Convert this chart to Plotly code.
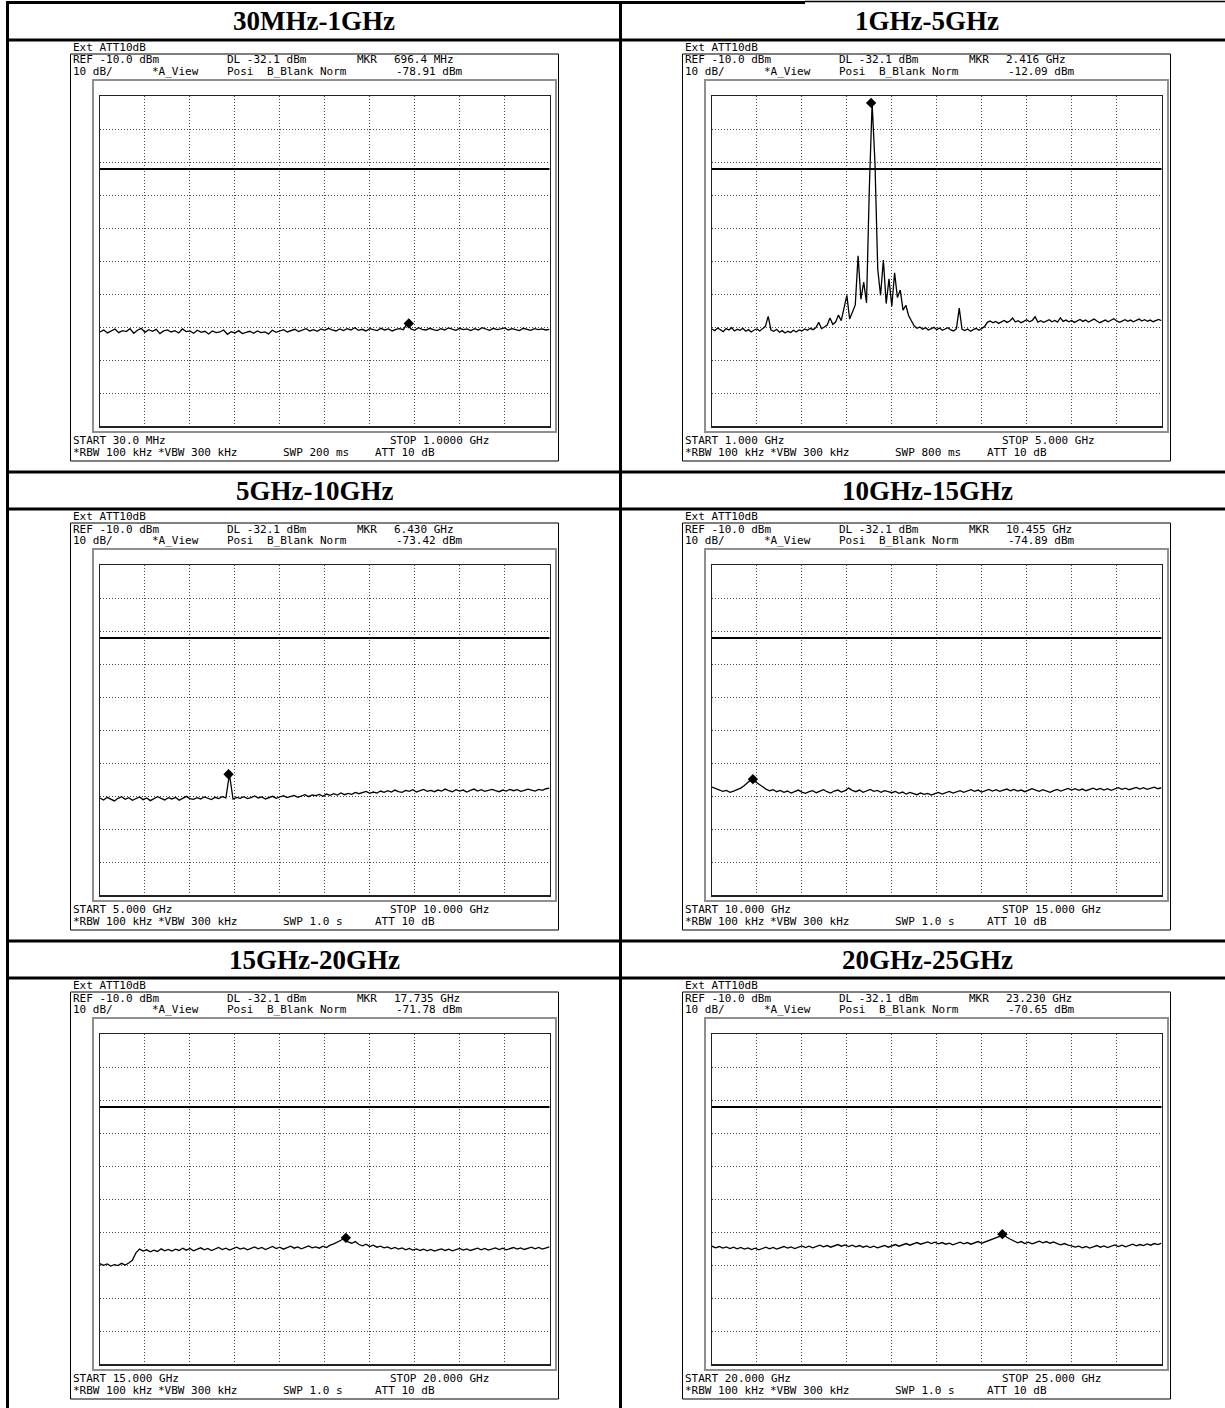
import numpy as np
import plotly.graph_objects as go

W, H = 1225, 1408

# ---------------- data ----------------
TITLES = ["30MHz-1GHz", "1GHz-5GHz", "5GHz-10GHz", "10GHz-15GHz", "15GHz-20GHz", "20GHz-25GHz"]
START_GHZ = [0.03, 1.0, 5.0, 10.0, 15.0, 20.0]
STOP_GHZ = [1.0, 5.0, 10.0, 15.0, 20.0, 25.0]
MKR_GHZ = [0.6964, 2.416, 6.430, 10.455, 17.735, 23.230]
MKR_DBM = [-78.91, -12.09, -73.42, -74.89, -71.78, -70.65]
REF_DBM = -10.0
DB_PER_DIV = 10
DL_DBM = -32.1

START_TXT = ["START 30.0 MHz", "START 1.000 GHz", "START 5.000 GHz",
             "START 10.000 GHz", "START 15.000 GHz", "START 20.000 GHz"]
STOP_TXT = ["STOP 1.0000 GHz", "STOP 5.000 GHz", "STOP 10.000 GHz",
            "STOP 15.000 GHz", "STOP 20.000 GHz", "STOP 25.000 GHz"]
MKR_F_TXT = ["696.4 MHz", "2.416 GHz", "6.430 GHz", "10.455 GHz", "17.735 GHz", "23.230 GHz"]
MKR_L_TXT = ["-78.91 dBm", "-12.09 dBm", "-73.42 dBm", "-74.89 dBm", "-71.78 dBm", "-70.65 dBm"]
SWP_TXT = ["SWP 200 ms", "SWP 800 ms", "SWP 1.0 s", "SWP 1.0 s", "SWP 1.0 s", "SWP 1.0 s"]

TRACE_1 = [
    -81.5, -80.9, -81.8, -81.2, -80.6, -81.7, -81.1, -81.4, -80.5, -81.9,
    -81.0, -80.4, -81.6, -80.8, -81.3, -80.7, -82.0, -81.2, -80.9, -81.5,
    -81.1, -81.8, -80.6, -81.4, -81.2, -81.9, -81.0, -81.6, -81.3, -82.1,
    -81.2, -81.7, -81.5, -80.9, -82.2, -81.4, -81.8, -81.1, -82.0, -81.6,
    -81.3, -81.9, -81.2, -81.7, -81.5, -82.1, -81.0, -81.6, -81.3, -80.8,
    -81.5, -81.1, -80.7, -81.4, -80.9, -80.5, -81.2, -80.8, -81.3, -80.6,
    -81.0, -80.4, -80.9, -81.2, -80.6, -81.1, -80.5, -80.9, -80.2, -81.0,
    -80.7, -81.2, -80.5, -80.8, -81.1, -80.4, -80.9, -80.6, -81.2, -80.7,
    -80.5, -80.8, -78.9, -80.6, -81.0, -80.2, -80.7, -80.9, -80.4, -80.8,
    -81.1, -80.5, -80.9, -80.3, -80.7, -81.0, -80.4, -80.8, -80.6, -81.1,
    -80.5, -80.9, -80.2, -80.7, -81.0, -80.4, -80.8, -80.6, -80.3, -80.9,
    -80.5, -80.8, -81.1, -80.4, -80.7, -81.0, -80.5, -80.8, -80.6, -80.9,
    -80.7]

TRACE_2 = [
    -80.6, -81.1, -80.3, -80.8, -81.4, -80.5, -80.9, -80.2, -81.2, -80.7,
    -81.0, -80.4, -81.3, -80.8, -81.5, -80.9, -80.6, -81.2, -80.4, -79.8,
    -76.8,
    -80.9, -81.3, -80.7, -81.6, -81.1, -81.8, -81.3, -81.7, -81.0,
    -81.5, -80.9, -81.2, -80.6, -81.0, -80.4, -80.8, -80.2, -78.6, -80.5,
    -80.0, -79.4, -77.3, -79.2, -78.5, -76.4, -78.1, -74.6, -70.4, -77.6,
    -75.7, -73.3, -58.4, -71.6, -66.4, -72.7, -38.0, -12.1, -30.0, -62.5,
    -70.4, -59.7, -72.9, -65.4, -73.7, -63.6, -71.1, -68.8, -74.9, -73.4,
    -76.6, -78.3, -79.7, -80.4, -80.0, -80.7, -80.2, -80.9, -80.5, -80.1,
    -80.8, -80.3, -81.0, -80.6, -80.2, -80.9, -81.2, -80.5, -74.3, -80.7,
    -81.1, -80.6, -81.3, -80.8, -80.4, -81.0, -80.5, -79.9, -78.6, -78.2,
    -78.7, -78.3, -78.9, -78.4, -78.0, -78.6, -78.2, -77.3, -78.5, -78.1,
    -78.7, -78.3, -77.8, -78.4, -78.0, -76.9, -78.5, -78.1, -78.6, -78.2,
    -77.8, -78.4, -78.0, -78.5, -77.2, -78.3, -77.9, -78.4, -78.0, -78.6,
    -78.2, -77.7, -78.3, -77.9, -78.5, -78.1, -77.6, -78.2, -78.7, -78.3,
    -77.9, -78.4, -78.0, -77.5, -78.1, -78.6, -78.2, -77.8, -78.3, -77.9,
    -78.4, -78.0, -77.6, -78.2, -77.8, -78.3, -77.9, -78.4, -78.0, -77.7,
    -78.1]

TRACE_3 = [
    -80.6, -81.2, -80.4, -80.9, -81.5, -80.7, -80.2, -81.0, -80.5, -81.3,
    -80.8, -80.3, -81.1, -80.6, -81.4, -80.9, -80.2, -80.7, -81.2, -80.5,
    -80.9, -80.4, -81.3, -80.7, -80.1, -80.8, -81.0, -80.5, -80.9, -80.3,
    -80.7, -81.1, -80.4, -80.8, -80.2, -80.6, -73.4, -80.9, -80.4, -80.7,
    -80.2, -80.8, -80.5, -80.0, -80.6, -80.3, -80.9, -80.4, -80.1, -80.7,
    -80.3, -79.9, -80.5, -80.2, -79.8, -80.4, -80.0, -79.6, -80.2, -79.7,
    -79.9, -79.5, -80.1, -79.4, -79.8, -79.3, -79.7, -79.1, -79.6, -79.2,
    -79.5, -78.9, -79.3, -79.0, -78.6, -79.2, -78.8, -79.1, -78.5, -78.9,
    -78.4, -78.8, -78.2, -78.7, -78.9, -78.3, -78.6, -78.1, -78.8, -78.4,
    -78.0, -78.6, -78.3, -78.7, -78.2, -78.5, -77.9, -78.4, -78.7, -78.1,
    -78.5, -78.2, -78.8, -78.3, -77.9, -78.5, -78.1, -78.6, -78.3, -78.0,
    -78.4, -78.7, -78.2, -78.5, -78.0, -78.4, -78.1, -78.6, -78.3, -77.9,
    -78.2, -78.5, -78.0, -78.3, -77.8, -77.6]

TRACE_4 = [
    -77.3, -77.8, -78.2, -78.6, -78.3, -78.9, -78.5, -78.1, -77.6, -76.8,
    -75.9, -74.9, -75.6, -76.4, -77.3, -77.9, -78.4, -78.1, -78.7, -78.3,
    -78.9, -78.5, -79.1, -78.6, -78.2, -78.8, -79.2, -78.7, -78.4, -79.0,
    -78.6, -78.1, -78.7, -79.1, -78.5, -78.2, -78.8, -78.4, -77.6, -78.3,
    -78.7, -78.2, -78.9, -78.5, -78.0, -78.6, -78.3, -78.9, -78.4, -78.7,
    -79.0, -78.6, -79.2, -78.8, -79.4, -78.9, -79.3, -79.6, -79.1, -79.5,
    -79.2, -79.7, -79.3, -78.9, -79.4, -79.0, -78.6, -79.1, -78.7, -78.4,
    -78.9, -78.5, -78.1, -78.6, -78.2, -78.8, -78.4, -78.0, -78.5, -78.1,
    -78.6, -78.3, -77.9, -78.4, -78.0, -78.5, -78.2, -78.7, -78.3, -77.8,
    -78.2, -78.6, -78.1, -78.5, -78.9, -78.4, -78.0, -78.5, -78.1, -77.7,
    -78.2, -77.8, -78.3, -77.9, -78.4, -78.0, -77.6, -78.1, -77.7, -78.2,
    -77.8, -78.3, -77.9, -77.5, -78.0, -77.6, -78.1, -77.8, -77.4, -77.9,
    -77.5, -78.0, -77.6, -77.3, -77.8, -77.5]

TRACE_5 = [
    -79.6, -80.1, -79.7, -80.3, -79.9, -80.2, -79.5, -80.0, -79.4, -78.6,
    -76.3, -75.2, -75.8, -75.4, -76.0, -75.5, -75.9, -75.1, -75.7, -75.3,
    -75.8, -75.2, -75.6, -74.9, -75.5, -75.0, -75.7, -75.3, -74.8, -75.4,
    -75.0, -75.6, -75.2, -74.7, -75.3, -74.9, -75.5, -75.1, -74.6, -75.2,
    -74.8, -75.4, -75.0, -74.5, -75.1, -74.7, -75.3, -74.9, -74.4, -75.0,
    -74.6, -75.2, -74.8, -74.3, -74.9, -74.5, -75.1, -74.7, -74.2, -74.8,
    -74.5, -74.9, -74.3, -74.7, -74.0, -73.6, -73.1, -72.5, -71.8, -73.0,
    -73.4, -72.9, -73.8, -74.2, -73.7, -74.4, -74.0, -74.6, -74.3, -74.8,
    -74.5, -75.1, -74.7, -75.2, -74.8, -75.4, -75.0, -75.5, -75.1, -75.6,
    -75.2, -75.7, -75.3, -75.8, -75.4, -75.1, -75.6, -75.2, -75.7, -75.3,
    -75.0, -75.5, -75.1, -75.6, -75.2, -74.9, -75.4, -75.0, -75.5, -75.1,
    -74.8, -75.3, -74.9, -75.4, -75.0, -74.7, -75.2, -74.8, -75.3, -74.9,
    -74.6, -75.1, -74.7, -75.2, -74.8, -74.5]

TRACE_6 = [
    -74.3, -74.8, -74.4, -74.9, -74.5, -75.0, -74.6, -75.1, -74.7, -75.2,
    -74.8, -75.3, -74.9, -75.4, -75.0, -74.6, -75.1, -74.7, -75.2, -74.8,
    -74.4, -74.9, -74.5, -75.0, -74.6, -74.2, -74.7, -74.3, -74.8, -74.4,
    -74.0, -74.5, -74.1, -74.6, -74.2, -73.8, -74.3, -73.9, -74.4, -74.0,
    -74.5, -74.1, -74.6, -74.2, -74.7, -74.3, -74.8, -74.4, -74.1, -74.6,
    -74.2, -73.8, -74.3, -73.9, -73.5, -74.0, -73.6, -73.2, -73.7, -73.3,
    -73.0, -73.5, -73.1, -73.6, -73.2, -73.7, -73.4, -73.9, -73.5, -73.1,
    -73.6, -73.2, -73.7, -73.3, -72.9, -73.4, -73.0, -72.6, -72.2, -71.8,
    -71.3, -70.7, -71.6, -72.2, -72.8, -73.3, -72.9, -73.5, -73.1, -73.6,
    -73.2, -72.8, -73.3, -72.9, -73.4, -73.0, -73.5, -73.9, -73.5, -74.0,
    -74.2, -74.6, -74.3, -74.8, -74.4, -74.9, -74.5, -74.1, -74.6, -74.2,
    -74.7, -74.3, -73.9, -74.4, -74.0, -74.5, -74.1, -73.7, -74.2, -73.8,
    -74.1, -73.6, -74.0, -73.5, -73.8, -73.4]

TRACES = [TRACE_1, TRACE_2, TRACE_3, TRACE_4, TRACE_5, TRACE_6]

# ---------------- layout helpers ----------------
def px(x):
    return x / W


def py(y):
    return 1 - y / H


COL_DX = [0, 612]
ROW_DY = [0, 469, 938]
MONO = "DejaVu Sans Mono"
FS = 11

fig = go.Figure()
shapes = []
annotations = []
layout_axes = {}


def hline(x0, x1, y, w, color="black"):
    shapes.append(dict(type="line", xref="paper", yref="paper",
                       x0=px(x0), x1=px(x1), y0=py(y), y1=py(y),
                       line=dict(color=color, width=w)))


def vline(x, y0, y1, w, color="black"):
    shapes.append(dict(type="line", xref="paper", yref="paper",
                       x0=px(x), x1=px(x), y0=py(y0), y1=py(y1),
                       line=dict(color=color, width=w)))


def text(x, y, s, size=FS, family=MONO, anchor="left"):
    annotations.append(dict(xref="paper", yref="paper", x=px(x), y=py(y),
                            text=s, showarrow=False, xanchor=anchor, yanchor="middle",
                            font=dict(family=family, size=size, color="black"),
                            borderpad=0))


# table lines
hline(7, 805, 2.5, 3)
hline(805, 1225, 1.5, 1.5)
for dy in ROW_DY:
    if dy > 0:
        hline(7, 1225, 3 + dy, 3)
    hline(7, 1225, 40 + dy, 3)
vline(7.5, 1, 1408, 3)
vline(620.5, 1, 1408, 3)

for k in range(6):
    r, c = divmod(k, 2)
    dx, dy = COL_DX[c], ROW_DY[r]
    n = k + 1
    xa = "x" if n == 1 else f"x{n}"
    ya = "y" if n == 1 else f"y{n}"
    xkey = "xaxis" if n == 1 else f"xaxis{n}"
    ykey = "yaxis" if n == 1 else f"yaxis{n}"

    start, stop = START_GHZ[k], STOP_GHZ[k]
    span = stop - start
    grid = dict(showticklabels=False, ticks="", zeroline=False,
                showgrid=True, gridcolor="#4a4a4a", griddash="1px,2px", gridwidth=1,
                showline=True, mirror=True, linecolor="#222", linewidth=1.5,
                fixedrange=True)
    layout_axes[xkey] = dict(
        domain=[px(100 + dx), px(549.5 + dx)], range=[start, stop],
        anchor=ya, tick0=start, dtick=span / 10, **grid)
    layout_axes[ykey] = dict(
        domain=[py(426 + dy), py(96 + dy)],
        range=[REF_DBM - 10 * DB_PER_DIV, REF_DBM],
        anchor=xa, tick0=REF_DBM, dtick=DB_PER_DIV, **grid)

    vals = TRACES[k]
    freqs = np.linspace(start, stop, len(vals))
    fig.add_trace(go.Scatter(x=freqs, y=vals, mode="lines",
                             line=dict(color="black", width=1.3),
                             xaxis=xa, yaxis=ya, hoverinfo="skip"))
    fig.add_trace(go.Scatter(x=[MKR_GHZ[k]], y=[MKR_DBM[k]], mode="markers",
                             marker=dict(symbol="diamond", size=8, color="black"),
                             xaxis=xa, yaxis=ya, hoverinfo="skip"))

    # display line
    shapes.append(dict(type="line", xref=f"{xa} domain", yref=ya,
                       x0=0, x1=1, y0=DL_DBM, y1=DL_DBM,
                       line=dict(color="black", width=2)))
    # gray outer frame of the screen
    shapes.append(dict(type="rect", xref="paper", yref="paper",
                       x0=px(93 + dx), x1=px(556 + dx), y0=py(432 + dy), y1=py(80 + dy),
                       line=dict(color="#8f8f8f", width=2)))
    # text box
    shapes.append(dict(type="rect", xref="paper", yref="paper",
                       x0=px(70.5 + dx), x1=px(558.5 + dx), y0=py(461 + dy), y1=py(54 + dy),
                       line=dict(color="black", width=1)))

    # title
    cx = 314 if c == 0 else 927
    text(cx, 21.5 + dy, f"<b>{TITLES[k]}</b>", size=27,
         family="Liberation Serif, Times New Roman, serif", anchor="center")

    # header texts
    text(72 + dx, 47.5 + dy, "Ext ATT10dB")
    text(72 + dx, 60 + dy, f"REF {REF_DBM:.1f} dBm")
    text(226 + dx, 60 + dy, f"DL {DL_DBM:.1f} dBm")
    text(356 + dx, 60 + dy, "MKR")
    text(393 + dx, 60 + dy, MKR_F_TXT[k])
    text(72 + dx, 71.5 + dy, f"{DB_PER_DIV} dB/")
    text(151 + dx, 71.5 + dy, "*A_View")
    text(226 + dx, 71.5 + dy, "Posi")
    text(266 + dx, 71.5 + dy, "B_Blank Norm")
    text(395 + dx, 71.5 + dy, MKR_L_TXT[k])

    # footer texts
    text(72 + dx, 440 + dy, START_TXT[k])
    text(389 + dx, 440 + dy, STOP_TXT[k])
    text(72 + dx, 452.5 + dy, "*RBW 100 kHz")
    text(157 + dx, 452.5 + dy, "*VBW 300 kHz")
    text(282 + dx, 452.5 + dy, SWP_TXT[k])
    text(374 + dx, 452.5 + dy, "ATT 10 dB")

fig.update_layout(
    width=W, height=H, margin=dict(l=0, r=0, t=0, b=0),
    paper_bgcolor="white", plot_bgcolor="white", showlegend=False,
    hovermode=False, dragmode=False,
    shapes=shapes, annotations=annotations, **layout_axes)

fig.write_html(
    "out.html",
    config={"displayModeBar": False, "staticPlot": True},
    post_script="document.body.style.margin='0';"
                "document.documentElement.style.overflow='hidden';")
